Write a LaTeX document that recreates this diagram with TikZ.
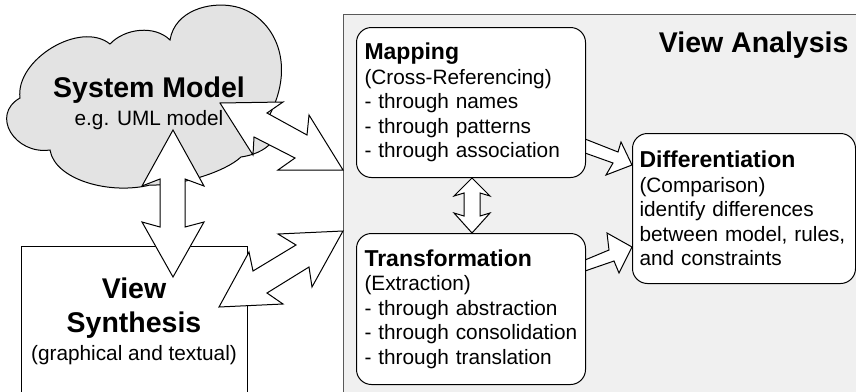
\documentclass[tikz,border=0pt]{standalone}
\usepackage{fontspec}
\setmainfont{Liberation Sans}
\usetikzlibrary{positioning}

\definecolor{cloudgray}{gray}{0.89}
\definecolor{panelgray}{gray}{0.94}
\newcommand{\bigbold}{\fontsize{28.5}{34}\selectfont\bfseries}
\newcommand{\boxtitle}{\fontsize{23}{25}\selectfont\bfseries}

\tikzset{
    box/.style={draw,line width=1pt,rounded corners=15pt,fill=white,
        anchor=north west,align=left,text width=213pt,inner xsep=8pt,
        minimum height=150pt},
    blockarrow/.style={draw,line width=1pt,fill=white,line join=miter},
}

\begin{document}
\begin{tikzpicture}[x=1pt,y=-1pt,font=\fontsize{20.8}{24.5}\selectfont]
    \useasboundingbox (0,0) rectangle (856,391);
    \clip (0,0) rectangle (856,391);

    % Analysis panel.
    \node[draw=black!65,line width=1.2pt,fill=panelgray,anchor=north west,
        minimum width=540pt,minimum height=400pt] (analysis) at (343,14) {};
    \node[anchor=base east,font=\bigbold] (analysistitle) at (852,52)
        {View Analysis};

    % System model cloud.
    \draw[line width=1pt,fill=cloudgray]
        (50,150) .. controls (15,155) and (-10,115) .. (20,98)
        .. controls (15,60) and (80,20) .. (110,44)
        .. controls (125,28) and (155,25) .. (170,40)
        .. controls (175,10) and (210,2) .. (232,6)
        .. controls (270,12) and (300,60) .. (268,118)
        .. controls (285,128) and (275,152) .. (241,157)
        .. controls (225,172) and (180,186) .. (150,185)
        .. controls (110,195) and (55,180) .. (50,150) -- cycle;
    \node[anchor=base,font=\bigbold] (sysmodel) at (149,97) {System Model};
    \node[anchor=base] (umlmodel) at (149,125) {e.g. UML model};

    % View synthesis box.
    \node[draw,line width=1pt,fill=white,anchor=north west,
        minimum width=226pt,minimum height=160pt] (synth) at (21,246) {};
    \node[anchor=base,font=\bigbold] (synthview) at (134,298) {View};
    \node[anchor=base,font=\bigbold] (synthname) at (134,332) {Synthesis};
    \node[anchor=base] (synthkind) at (134,360) {(graphical and textual)};

    % Block arrows.
    \draw[blockarrow] (220,103) -- (283,102) -- (267,113) -- (307,135)
        -- (309,115) -- (343,170) -- (278,170) -- (295,158) -- (254,137)
        -- (253,155) -- cycle;
    \draw[blockarrow] (343,231) -- (278,234) -- (296,245) -- (253,271)
        -- (249,252) -- (219,307) -- (283,304) -- (267,293) -- (309,267)
        -- (312,287) -- cycle;
    \draw[blockarrow] (173,130) -- (204,186) -- (185,179) -- (185,227)
        -- (204,222) -- (173,277) -- (142,222) -- (160,227) -- (160,179)
        -- (142,186) -- cycle;
    \draw[blockarrow] (472,178) -- (490,196) -- (480,193) -- (480,216)
        -- (490,213) -- (472,233) -- (454,213) -- (464,216) -- (464,193)
        -- (454,196) -- cycle;
    \draw[blockarrow] (585,139) -- (618,152) -- (621,142) -- (632,165)
        -- (606,175) -- (613,163) -- (585,153) -- cycle;
    \draw[blockarrow] (585,260) -- (609,250) -- (607,233) -- (632,247)
        -- (619,273) -- (614,261) -- (585,271) -- cycle;

    % Analysis steps.
    \node[box] (mapping) at (356,27)
        {{\boxtitle Mapping}\\(Cross-Referencing)\\- through names\\
         - through patterns\\- through association};
    \node[box,minimum height=151pt] (transf) at (356,233)
        {{\boxtitle Transformation}\\(Extraction)\\- through abstraction\\
         - through consolidation\\- through translation};
    \node[box,inner xsep=7pt,text width=209pt] (diff) at (632,133)
        {{\boxtitle Differentiation}\\(Comparison)\\identify differences\\
         between model, rules,\\and constraints};
\end{tikzpicture}
\end{document}
